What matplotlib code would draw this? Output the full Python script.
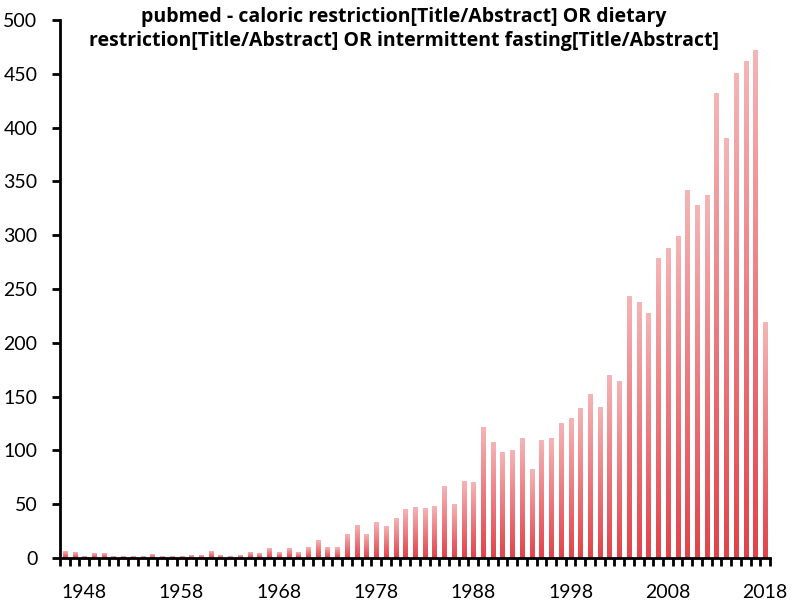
import numpy as np
import matplotlib.pyplot as plt
from matplotlib.colors import LinearSegmentedColormap

# publications per year
years = list(range(1946, 2019))
counts = [6, 5, 1, 4, 4, 1, 1, 1, 1, 3,
          1, 1, 1, 2, 2, 6, 2, 1, 2, 5,
          4, 9, 5, 9, 5, 10, 16, 10, 10, 22,
          30, 22, 33, 29, 37, 45, 47, 46, 48, 66,
          50, 71, 70, 121, 107, 98, 100, 111, 82, 109,
          111, 125, 130, 139, 152, 140, 170, 164, 243, 237,
          227, 278, 288, 299, 342, 328, 337, 432, 390, 450,
          461, 472, 219]
label_years = [1948, 1958, 1968, 1978, 1988, 1998, 2008, 2018]
y_ticks = list(range(0, 501, 50))

title = ("pubmed - caloric restriction[Title/Abstract] OR dietary\n"
         "restriction[Title/Abstract] OR intermittent fasting[Title/Abstract]")

plt.rcParams['font.family'] = ['Lato', 'DejaVu Sans']

fig = plt.figure(figsize=(7.92, 6.02), dpi=100)
ax = fig.add_axes([60/792, 1-558/602, 710/792, 538/602])

# pink-to-red gradient for each bar (light at top, dark at bottom)
cmap = LinearSegmentedColormap.from_list('bar', ['#e1434a', '#f5b4b6'])
grad = np.linspace(0, 1, 128).reshape(-1, 1)

bars = ax.bar(years, counts, width=0.42, color='none', edgecolor='none')
for b in bars:
    x0 = b.get_x()
    ax.imshow(grad, extent=[x0, x0 + b.get_width(), 0, b.get_height()],
              origin='lower', aspect='auto', cmap=cmap, interpolation='bilinear', zorder=2)

ax.set_xlim(years[0] - 0.5, years[-1] + 0.5)
ax.set_ylim(0, 500)
ax.set_aspect('auto')

for s in ['top', 'right']:
    ax.spines[s].set_visible(False)
for s in ['left', 'bottom']:
    ax.spines[s].set_linewidth(2)
    ax.spines[s].set_zorder(3)

ax.set_yticks(y_ticks)
ax.set_yticklabels([str(v) for v in y_ticks], fontsize=14)
ax.tick_params(axis='y', direction='out', length=5.8, width=2, pad=10.5)

ax.set_xticks(label_years)
ax.set_xticklabels([str(v) for v in label_years], fontsize=14)
ax.set_xticks(np.arange(years[0] - 0.5, years[-1] + 1), minor=True)
ax.tick_params(axis='x', which='major', length=0, pad=19)
ax.tick_params(axis='x', which='minor', direction='out', length=5.8, width=2)

fig.text(404/792, 1 - 29/602, title, ha='center', va='center', fontsize=14,
         fontweight='bold', family='Open Sans', linespacing=1.3)

fig.savefig('out.png', dpi=100)
